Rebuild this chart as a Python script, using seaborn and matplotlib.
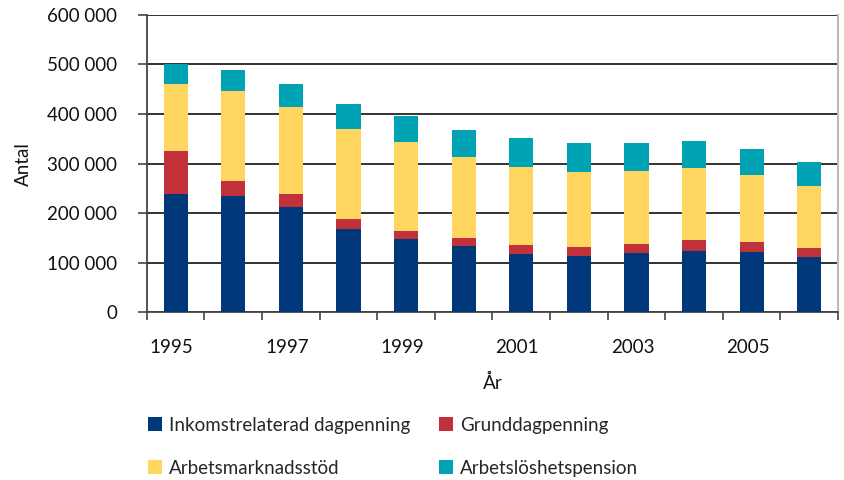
import numpy as np
import pandas as pd
import matplotlib.pyplot as plt
import matplotlib.transforms as mtransforms
from matplotlib.patches import Patch
from matplotlib.ticker import FuncFormatter, FixedLocator
import seaborn as sns

# Data
years = [1995, 1996, 1997, 1998, 1999, 2000, 2001, 2002, 2003, 2004, 2005, 2006]
inkomst = [239000, 235000, 212000, 168000, 148000, 135000, 118000, 114000, 120000, 124000, 122000, 112000]
grund = [86000, 30000, 27000, 20000, 16000, 16000, 18000, 19000, 18000, 22000, 20000, 18000]
arbetsmarknad = [136000, 181000, 175000, 182000, 180000, 163000, 158000, 151000, 148000, 146000, 135000, 125000]
pension = [40000, 43000, 47000, 50000, 53000, 54000, 58000, 58000, 56000, 54000, 53000, 49000]

labels = ["Inkomstrelaterad dagpenning", "Grunddagpenning",
          "Arbetsmarknadsstöd", "Arbetslöshetspension"]
colors = ["#00387A", "#C0313A", "#FED55E", "#00A3B4"]

sns.set_theme(style="white")
plt.rcParams['font.family'] = ['Lato', 'DejaVu Sans']

df = pd.DataFrame({"År": [str(y) for y in years],
                   "s1": inkomst, "s2": grund, "s3": arbetsmarknad, "s4": pension})
df["c1"] = df["s1"]
df["c2"] = df["c1"] + df["s2"]
df["c3"] = df["c2"] + df["s3"]
df["c4"] = df["c3"] + df["s4"]

fig, ax = plt.subplots(figsize=(8.44, 4.8), dpi=100)
fig.subplots_adjust(left=0.174, right=0.993, top=0.969, bottom=0.349)

# draw cumulative totals from the top down so the layers stack
for col, c in zip(["c4", "c3", "c2", "c1"], colors[::-1]):
    sns.barplot(data=df, x="År", y=col, color=c, width=0.42, saturation=1,
                linewidth=0, ax=ax, zorder=3)

ax.set_ylim(0, 600000)
ax.set_xlim(-0.5, len(years) - 0.5)
ax.yaxis.set_major_locator(FixedLocator(np.arange(0, 600001, 100000)))
ax.yaxis.set_major_formatter(FuncFormatter(lambda v, p: f"{int(v):,}".replace(",", " ")))
ax.grid(axis="y", color="#222222", linewidth=1.3, zorder=0)
ax.set_axisbelow(True)

ax.set_xticks(range(0, len(years), 2))
ax.set_xticklabels([str(y) for y in years[::2]])
ax.set_xticks(np.arange(-0.5, len(years), 1.0), minor=True)
ax.tick_params(axis="x", which="major", length=0, pad=19, labelsize=13.5, colors="#111111")
ax.tick_params(axis="x", which="minor", length=6, width=1.2, direction="out",
               color="#444444", bottom=True)
ax.tick_params(axis="y", length=6.5, width=1.2, direction="out", color="#444444",
               pad=15, labelsize=13.5, colors="#111111", left=True)

# year labels sit a little left of the bar centres
shift = mtransforms.ScaledTranslation(-4 / 100, 0, fig.dpi_scale_trans)
for lbl in ax.get_xticklabels():
    lbl.set_transform(lbl.get_transform() + shift)

for s in ["left", "bottom"]:
    ax.spines[s].set_color("#444444")
    ax.spines[s].set_linewidth(1.3)
ax.spines["top"].set_visible(False)
ax.spines["right"].set_color("#bbbbbb")
ax.spines["right"].set_linewidth(1.5)

ax.set_xlabel("År", fontsize=13.5, labelpad=13, color="#111111")
ax.set_ylabel("Antal", fontsize=13.5, labelpad=11, color="#111111")

# legend fills column-wise, so order handles to get the two rows right
order = [0, 2, 1, 3]
handles = [Patch(facecolor=colors[i], edgecolor="none") for i in order]
fig.legend(handles, [labels[i] for i in order], ncol=2, loc="upper left",
           bbox_to_anchor=(0.155, 0.167), frameon=False, fontsize=13.5,
           handlelength=0.75, handleheight=0.75, handletextpad=0.4,
           columnspacing=1.5, labelspacing=1.38)

fig.savefig("out.png", dpi=100)
